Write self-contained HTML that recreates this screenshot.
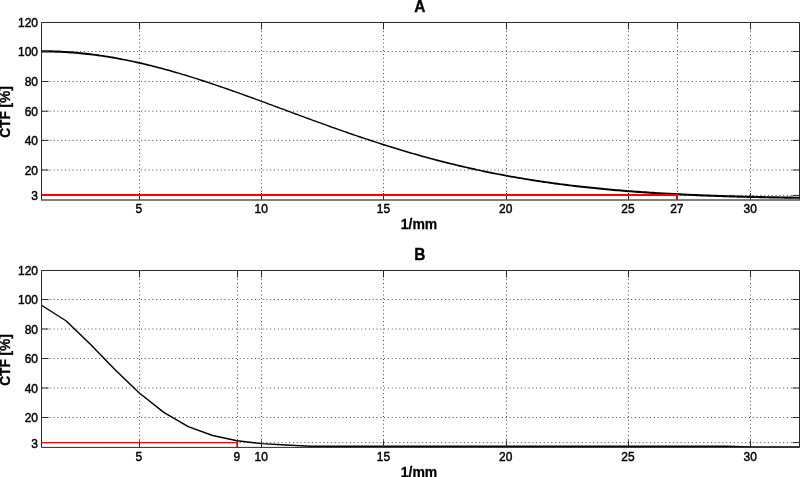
<!DOCTYPE html>
<html><head><meta charset="utf-8"><title>CTF</title>
<style>
html,body{margin:0;padding:0;background:#fff;width:800px;height:477px;overflow:hidden}
svg{display:block;will-change:transform}
.grid{stroke:#4a4a4a;stroke-width:1;stroke-dasharray:1 2.8;fill:none}
.ax{stroke:#2a2a2a;stroke-width:1;fill:none}
.axb{stroke:#555;stroke-width:1.3;fill:none}
.tk{stroke:#2a2a2a;stroke-width:1;fill:none}
.red{stroke:#f00;stroke-width:2;fill:none}
text{font-family:"Liberation Sans",Arial,Helvetica,sans-serif;fill:#000}
.tl{font-size:12px;stroke:#000;stroke-width:0.42}
.ttl{font-size:15px;font-weight:bold;stroke:#000;stroke-width:0.3}
.lbl{font-size:14px;font-weight:bold;stroke:#000;stroke-width:0.25}
.lbl2{font-size:13.7px;font-weight:bold;stroke:#000;stroke-width:0.3}
</style></head><body>
<svg width="800" height="477" viewBox="0 0 800 477">
<rect x="0" y="0" width="800" height="477" fill="#fff"/>
<line x1="139.5" y1="23.6" x2="139.5" y2="200.0" class="grid"/>
<line x1="261.5" y1="23.6" x2="261.5" y2="200.0" class="grid"/>
<line x1="383.5" y1="23.6" x2="383.5" y2="200.0" class="grid"/>
<line x1="506.5" y1="23.6" x2="506.5" y2="200.0" class="grid"/>
<line x1="628.5" y1="23.6" x2="628.5" y2="200.0" class="grid"/>
<line x1="677.5" y1="23.6" x2="677.5" y2="200.0" class="grid"/>
<line x1="750.5" y1="23.6" x2="750.5" y2="200.0" class="grid"/>
<line x1="42.15" y1="195.4" x2="799.5" y2="195.4" class="grid"/>
<line x1="42.15" y1="170.0" x2="799.5" y2="170.0" class="grid"/>
<line x1="42.15" y1="140.4" x2="799.5" y2="140.4" class="grid"/>
<line x1="42.15" y1="111.2" x2="799.5" y2="111.2" class="grid"/>
<line x1="42.15" y1="81.5" x2="799.5" y2="81.5" class="grid"/>
<line x1="42.15" y1="51.5" x2="799.5" y2="51.5" class="grid"/>
<clipPath id="cA"><rect x="41" y="19.5" width="759" height="183.5"/></clipPath>
<path d="M41.50,52.40 L43.94,52.40 L46.38,52.42 L48.82,52.45 L51.25,52.50 L53.69,52.56 L56.13,52.63 L58.57,52.72 L61.01,52.83 L63.45,52.95 L65.89,53.08 L68.33,53.23 L70.77,53.39 L73.21,53.57 L75.65,53.77 L78.09,53.98 L80.53,54.20 L82.97,54.44 L85.41,54.69 L87.85,54.96 L90.29,55.24 L92.73,55.53 L95.17,55.84 L97.61,56.16 L100.05,56.50 L102.49,56.85 L104.93,57.21 L107.37,57.59 L109.82,57.98 L112.26,58.39 L114.70,58.81 L117.14,59.24 L119.58,59.68 L122.02,60.14 L124.47,60.61 L126.91,61.09 L129.35,61.59 L131.79,62.10 L134.24,62.62 L136.68,63.15 L139.12,63.69 L141.56,64.25 L144.01,64.81 L146.45,65.39 L148.89,65.98 L151.34,66.58 L153.78,67.20 L156.22,67.82 L158.66,68.45 L161.11,69.09 L163.55,69.75 L166.00,70.41 L168.44,71.08 L170.88,71.77 L173.33,72.46 L175.77,73.16 L178.21,73.87 L180.66,74.59 L183.10,75.32 L185.55,76.06 L187.99,76.80 L190.43,77.56 L192.88,78.32 L195.32,79.09 L197.77,79.86 L200.21,80.64 L202.66,81.44 L205.10,82.23 L207.54,83.04 L209.99,83.85 L212.43,84.66 L214.88,85.49 L217.32,86.31 L219.77,87.15 L222.21,87.99 L224.66,88.83 L227.10,89.68 L229.55,90.53 L231.99,91.39 L234.44,92.26 L236.88,93.12 L239.33,93.99 L241.77,94.87 L244.22,95.75 L246.66,96.63 L249.11,97.51 L251.55,98.40 L254.00,99.29 L256.44,100.18 L258.89,101.08 L261.33,101.97 L263.78,102.87 L266.22,103.77 L268.67,104.67 L271.11,105.58 L273.56,106.48 L276.00,107.38 L278.45,108.29 L280.89,109.20 L283.34,110.10 L285.78,111.01 L288.23,111.91 L290.67,112.82 L293.12,113.72 L295.56,114.63 L298.01,115.53 L300.45,116.43 L302.90,117.34 L305.34,118.24 L307.79,119.14 L310.23,120.03 L312.68,120.93 L315.12,121.82 L317.57,122.71 L320.02,123.60 L322.46,124.49 L324.91,125.37 L327.35,126.25 L329.80,127.13 L332.24,128.00 L334.69,128.88 L337.13,129.74 L339.58,130.61 L342.02,131.47 L344.47,132.33 L346.92,133.18 L349.36,134.03 L351.81,134.88 L354.25,135.72 L356.70,136.55 L359.14,137.39 L361.59,138.21 L364.03,139.04 L366.48,139.86 L368.93,140.67 L371.37,141.48 L373.82,142.28 L376.26,143.08 L378.71,143.87 L381.15,144.66 L383.60,145.44 L386.05,146.22 L388.49,146.99 L390.94,147.75 L393.38,148.51 L395.83,149.27 L398.28,150.01 L400.72,150.76 L403.17,151.49 L405.61,152.22 L408.06,152.94 L410.51,153.66 L412.95,154.37 L415.40,155.08 L417.84,155.78 L420.29,156.47 L422.74,157.15 L425.18,157.83 L427.63,158.50 L430.08,159.17 L432.52,159.83 L434.97,160.48 L437.41,161.13 L439.86,161.77 L442.31,162.40 L444.75,163.03 L447.20,163.65 L449.65,164.26 L452.09,164.87 L454.54,165.46 L456.99,166.06 L459.43,166.64 L461.88,167.22 L464.33,167.79 L466.77,168.36 L469.22,168.92 L471.66,169.47 L474.11,170.02 L476.56,170.55 L479.00,171.09 L481.45,171.61 L483.90,172.13 L486.34,172.64 L488.79,173.15 L491.24,173.65 L493.69,174.14 L496.13,174.62 L498.58,175.10 L501.03,175.57 L503.47,176.04 L505.92,176.50 L508.37,176.95 L510.81,177.40 L513.26,177.84 L515.71,178.27 L518.15,178.70 L520.60,179.12 L523.05,179.53 L525.49,179.94 L527.94,180.35 L530.39,180.74 L532.83,181.13 L535.28,181.52 L537.73,181.89 L540.18,182.27 L542.62,182.63 L545.07,182.99 L547.52,183.35 L549.96,183.70 L552.41,184.04 L554.86,184.38 L557.30,184.71 L559.75,185.04 L562.20,185.36 L564.64,185.67 L567.09,185.98 L569.54,186.29 L571.99,186.59 L574.43,186.88 L576.88,187.17 L579.33,187.46 L581.77,187.74 L584.22,188.01 L586.67,188.28 L589.11,188.54 L591.56,188.80 L594.01,189.06 L596.45,189.31 L598.90,189.55 L601.35,189.79 L603.79,190.03 L606.24,190.26 L608.69,190.49 L611.13,190.71 L613.58,190.93 L616.03,191.14 L618.47,191.35 L620.92,191.56 L623.37,191.76 L625.81,191.96 L628.26,192.15 L630.71,192.34 L633.15,192.53 L635.60,192.71 L638.05,192.89 L640.49,193.06 L642.94,193.24 L645.39,193.40 L647.83,193.57 L650.28,193.73 L652.73,193.89 L655.17,194.04 L657.62,194.19 L660.07,194.34 L662.51,194.48 L664.96,194.62 L667.40,194.76 L669.85,194.90 L672.30,195.03 L674.74,195.16 L677.19,195.28 L679.64,195.41 L682.08,195.53 L684.53,195.64 L686.97,195.76 L689.42,195.87 L691.87,195.98 L694.31,196.09 L696.76,196.19 L699.21,196.29 L701.65,196.39 L704.10,196.49 L706.54,196.59 L708.99,196.68 L711.44,196.77 L713.88,196.86 L716.33,196.95 L718.77,197.03 L721.22,197.11 L723.67,197.19 L726.11,197.27 L728.56,197.35 L731.00,197.42 L733.45,197.49 L735.90,197.56 L738.34,197.63 L740.79,197.70 L743.23,197.77 L745.68,197.83 L748.13,197.89 L750.57,197.95 L753.02,198.01 L755.46,198.07 L757.91,198.12 L760.35,198.18 L762.80,198.23 L765.25,198.28 L767.69,198.33 L770.14,198.38 L772.58,198.43 L775.03,198.48 L777.47,198.52 L779.92,198.57 L782.37,198.61 L784.81,198.65 L787.26,198.69 L789.70,198.73 L792.15,198.77 L794.59,198.80 L797.04,198.84 L799.48,198.87 L799.52,196.71 L797.07,196.67 L794.63,196.64 L792.18,196.60 L789.74,196.56 L787.29,196.53 L784.85,196.49 L782.40,196.45 L779.96,196.41 L777.51,196.36 L775.07,196.32 L772.62,196.27 L770.18,196.23 L767.73,196.18 L765.29,196.13 L762.85,196.08 L760.40,196.03 L757.96,195.98 L755.51,195.92 L753.07,195.87 L750.62,195.81 L748.18,195.75 L745.73,195.69 L743.29,195.63 L740.84,195.56 L738.40,195.50 L735.96,195.43 L733.51,195.36 L731.07,195.29 L728.62,195.22 L726.18,195.14 L723.73,195.07 L721.29,194.99 L718.85,194.91 L716.40,194.83 L713.96,194.74 L711.51,194.66 L709.07,194.57 L706.62,194.48 L704.18,194.38 L701.74,194.29 L699.29,194.19 L696.85,194.09 L694.40,193.99 L691.96,193.88 L689.51,193.78 L687.07,193.67 L684.63,193.55 L682.18,193.44 L679.74,193.32 L677.29,193.20 L674.85,193.08 L672.41,192.95 L669.96,192.82 L667.52,192.69 L665.07,192.56 L662.63,192.42 L660.19,192.28 L657.74,192.13 L655.30,191.99 L652.85,191.83 L650.41,191.68 L647.97,191.52 L645.52,191.36 L643.08,191.20 L640.64,191.03 L638.19,190.86 L635.75,190.68 L633.30,190.51 L630.86,190.32 L628.42,190.14 L625.97,189.95 L623.53,189.75 L621.09,189.56 L618.64,189.35 L616.20,189.15 L613.75,188.94 L611.31,188.72 L608.87,188.51 L606.42,188.28 L603.98,188.06 L601.54,187.82 L599.09,187.59 L596.65,187.35 L594.21,187.10 L591.76,186.85 L589.32,186.60 L586.88,186.34 L584.43,186.07 L581.99,185.81 L579.55,185.53 L577.10,185.25 L574.66,184.97 L572.21,184.68 L569.77,184.38 L567.33,184.09 L564.88,183.78 L562.44,183.47 L560.00,183.16 L557.55,182.83 L555.11,182.51 L552.67,182.18 L550.22,181.84 L547.78,181.50 L545.34,181.15 L542.89,180.79 L540.45,180.43 L538.01,180.07 L535.56,179.69 L533.12,179.32 L530.68,178.93 L528.23,178.54 L525.79,178.15 L523.35,177.74 L520.90,177.33 L518.46,176.92 L516.02,176.50 L513.57,176.07 L511.13,175.64 L508.69,175.20 L506.24,174.75 L503.80,174.30 L501.36,173.84 L498.91,173.38 L496.47,172.91 L494.02,172.43 L491.58,171.94 L489.14,171.45 L486.69,170.95 L484.25,170.45 L481.81,169.94 L479.36,169.42 L476.92,168.89 L474.48,168.36 L472.03,167.82 L469.59,167.28 L467.14,166.73 L464.70,166.17 L462.26,165.60 L459.81,165.03 L457.37,164.45 L454.93,163.87 L452.48,163.28 L450.04,162.68 L447.59,162.07 L445.15,161.46 L442.71,160.84 L440.26,160.21 L437.82,159.58 L435.37,158.94 L432.93,158.30 L430.49,157.64 L428.04,156.99 L425.60,156.32 L423.15,155.65 L420.71,154.97 L418.27,154.28 L415.82,153.59 L413.38,152.89 L410.93,152.19 L408.49,151.48 L406.04,150.76 L403.60,150.04 L401.16,149.31 L398.71,148.58 L396.27,147.83 L393.82,147.09 L391.38,146.33 L388.93,145.57 L386.49,144.81 L384.04,144.04 L381.60,143.26 L379.16,142.48 L376.71,141.69 L374.27,140.90 L371.82,140.10 L369.38,139.30 L366.93,138.49 L364.49,137.68 L362.04,136.86 L359.60,136.04 L357.15,135.21 L354.71,134.38 L352.26,133.54 L349.82,132.70 L347.38,131.86 L344.93,131.01 L342.49,130.15 L340.04,129.30 L337.60,128.44 L335.15,127.57 L332.71,126.70 L330.26,125.83 L327.82,124.96 L325.37,124.08 L322.93,123.20 L320.48,122.32 L318.04,121.43 L315.59,120.54 L313.15,119.65 L310.70,118.76 L308.26,117.86 L305.81,116.96 L303.37,116.07 L300.92,115.17 L298.48,114.26 L296.03,113.36 L293.59,112.46 L291.14,111.55 L288.70,110.65 L286.25,109.74 L283.81,108.84 L281.36,107.93 L278.92,107.02 L276.47,106.12 L274.02,105.21 L271.58,104.31 L269.13,103.41 L266.69,102.50 L264.24,101.60 L261.80,100.70 L259.35,99.80 L256.91,98.91 L254.46,98.01 L252.02,97.12 L249.57,96.23 L247.13,95.34 L244.68,94.46 L242.24,93.58 L239.79,92.70 L237.34,91.82 L234.90,90.95 L232.45,90.08 L230.01,89.22 L227.56,88.36 L225.12,87.51 L222.67,86.66 L220.23,85.81 L217.78,84.97 L215.33,84.14 L212.89,83.31 L210.44,82.49 L208.00,81.67 L205.55,80.86 L203.11,80.06 L200.66,79.26 L198.21,78.47 L195.77,77.68 L193.32,76.91 L190.88,76.14 L188.43,75.38 L185.98,74.62 L183.54,73.88 L181.09,73.14 L178.64,72.41 L176.20,71.69 L173.75,70.98 L171.30,70.28 L168.86,69.59 L166.41,68.90 L163.96,68.23 L161.52,67.56 L159.07,66.91 L156.62,66.26 L154.18,65.63 L151.73,65.01 L149.28,64.40 L146.83,63.79 L144.39,63.20 L141.94,62.62 L139.49,62.06 L137.04,61.50 L134.60,60.96 L132.15,60.42 L129.70,59.90 L127.25,59.39 L124.80,58.90 L122.36,58.42 L119.91,57.94 L117.46,57.49 L115.01,57.04 L112.56,56.61 L110.11,56.19 L107.66,55.78 L105.22,55.39 L102.77,55.01 L100.32,54.65 L97.87,54.30 L95.42,53.96 L92.97,53.64 L90.52,53.33 L88.07,53.03 L85.62,52.75 L83.17,52.48 L80.72,52.23 L78.27,51.99 L75.82,51.77 L73.37,51.56 L70.92,51.37 L68.47,51.19 L66.01,51.03 L63.56,50.88 L61.11,50.74 L58.66,50.62 L56.21,50.52 L53.76,50.43 L51.31,50.35 L48.86,50.29 L46.40,50.25 L43.95,50.22 L41.50,50.21 Z" fill="#000" clip-path="url(#cA)"/>
<path d="M139.5,200.0 v-7 M139.5,22.5 v7" class="tk"/>
<text transform="translate(138.91,213.40) scale(1.0,1.1)" class="tl" text-anchor="middle">5</text>
<path d="M261.5,200.0 v-7 M261.5,22.5 v7" class="tk"/>
<text transform="translate(261.16,213.40) scale(1.0,1.1)" class="tl" text-anchor="middle">10</text>
<path d="M383.5,200.0 v-7 M383.5,22.5 v7" class="tk"/>
<text transform="translate(383.42,213.40) scale(1.0,1.1)" class="tl" text-anchor="middle">15</text>
<path d="M506.5,200.0 v-7 M506.5,22.5 v7" class="tk"/>
<text transform="translate(505.68,213.40) scale(1.0,1.1)" class="tl" text-anchor="middle">20</text>
<path d="M628.5,200.0 v-7 M628.5,22.5 v7" class="tk"/>
<text transform="translate(627.94,213.40) scale(1.0,1.1)" class="tl" text-anchor="middle">25</text>
<path d="M677.5,200.0 v-7 M677.5,22.5 v7" class="tk"/>
<text transform="translate(676.84,213.40) scale(1.0,1.1)" class="tl" text-anchor="middle">27</text>
<path d="M750.5,200.0 v-7 M750.5,22.5 v7" class="tk"/>
<text transform="translate(750.20,213.40) scale(1.0,1.1)" class="tl" text-anchor="middle">30</text>
<path d="M41.5,195.4 h7 M799.5,195.4 h-7" class="tk"/>
<text transform="translate(38.00,200.30) scale(1.0,1.1)" class="tl" text-anchor="end">3</text>
<path d="M41.5,170.0 h7 M799.5,170.0 h-7" class="tk"/>
<text transform="translate(38.00,174.90) scale(1.0,1.1)" class="tl" text-anchor="end">20</text>
<path d="M41.5,140.4 h7 M799.5,140.4 h-7" class="tk"/>
<text transform="translate(38.00,145.30) scale(1.0,1.1)" class="tl" text-anchor="end">40</text>
<path d="M41.5,111.2 h7 M799.5,111.2 h-7" class="tk"/>
<text transform="translate(38.00,116.10) scale(1.0,1.1)" class="tl" text-anchor="end">60</text>
<path d="M41.5,81.5 h7 M799.5,81.5 h-7" class="tk"/>
<text transform="translate(38.00,86.40) scale(1.0,1.1)" class="tl" text-anchor="end">80</text>
<path d="M41.5,51.5 h7 M799.5,51.5 h-7" class="tk"/>
<text transform="translate(38.00,56.40) scale(1.0,1.1)" class="tl" text-anchor="end">100</text>
<path d="M41.5,22.5 h7 M799.5,22.5 h-7" class="tk"/>
<text transform="translate(38.00,27.40) scale(1.0,1.1)" class="tl" text-anchor="end">120</text>
<path d="M41.5,195.0 H678.0 M677.0,194.0 V200.0" stroke="#f00" stroke-width="2.0" fill="none"/>
<path d="M41.5,200.0 V22.5 H799.5 V200.0" class="ax"/>
<path d="M41.0,200.0 H800.0" class="axb"/>
<text transform="translate(419.90,12.00) scale(1.03,1.16)" class="ttl" text-anchor="middle">A</text>
<text transform="translate(419.00,229.30) scale(1.0,1.04)" class="lbl" text-anchor="middle">1/mm</text>
<text transform="translate(9.50,112.00) rotate(-90) scale(1.0,1.1)" class="lbl2" text-anchor="middle">CTF [%]</text>
<line x1="139.5" y1="271.6" x2="139.5" y2="447.4" class="grid"/>
<line x1="237.5" y1="271.6" x2="237.5" y2="447.4" class="grid"/>
<line x1="261.5" y1="271.6" x2="261.5" y2="447.4" class="grid"/>
<line x1="383.5" y1="271.6" x2="383.5" y2="447.4" class="grid"/>
<line x1="506.5" y1="271.6" x2="506.5" y2="447.4" class="grid"/>
<line x1="628.5" y1="271.6" x2="628.5" y2="447.4" class="grid"/>
<line x1="750.5" y1="271.6" x2="750.5" y2="447.4" class="grid"/>
<line x1="42.15" y1="442.6" x2="799.5" y2="442.6" class="grid"/>
<line x1="42.15" y1="417.5" x2="799.5" y2="417.5" class="grid"/>
<line x1="42.15" y1="388.0" x2="799.5" y2="388.0" class="grid"/>
<line x1="42.15" y1="358.5" x2="799.5" y2="358.5" class="grid"/>
<line x1="42.15" y1="329.0" x2="799.5" y2="329.0" class="grid"/>
<line x1="42.15" y1="299.5" x2="799.5" y2="299.5" class="grid"/>
<clipPath id="cB"><rect x="41" y="267.5" width="759" height="182.89999999999998"/></clipPath>
<polyline points="41.50,305.25 65.95,320.74 90.40,344.34 114.85,369.56 139.31,393.01 163.76,412.34 188.21,426.64 212.66,435.50 237.11,440.81 261.56,443.61 286.02,444.94 310.47,446.31 334.92,446.31 359.37,446.31 383.82,446.31 408.27,446.31 432.73,446.31 457.18,446.31 481.63,446.31 506.08,446.31 530.53,446.31 554.98,446.31 579.44,446.31 603.89,446.31 628.34,446.31 652.79,446.31 677.24,446.31 701.69,446.31 726.15,446.31 750.60,446.85 775.05,446.85 799.50,446.85" fill="none" stroke="#000" stroke-width="1.45" stroke-linejoin="round" clip-path="url(#cB)"/>
<path d="M139.5,447.4 v-7 M139.5,270.5 v7" class="tk"/>
<text transform="translate(138.91,461.40) scale(1.0,1.1)" class="tl" text-anchor="middle">5</text>
<path d="M237.5,447.4 v-7 M237.5,270.5 v7" class="tk"/>
<text transform="translate(236.71,461.40) scale(1.0,1.1)" class="tl" text-anchor="middle">9</text>
<path d="M261.5,447.4 v-7 M261.5,270.5 v7" class="tk"/>
<text transform="translate(261.16,461.40) scale(1.0,1.1)" class="tl" text-anchor="middle">10</text>
<path d="M383.5,447.4 v-7 M383.5,270.5 v7" class="tk"/>
<text transform="translate(383.42,461.40) scale(1.0,1.1)" class="tl" text-anchor="middle">15</text>
<path d="M506.5,447.4 v-7 M506.5,270.5 v7" class="tk"/>
<text transform="translate(505.68,461.40) scale(1.0,1.1)" class="tl" text-anchor="middle">20</text>
<path d="M628.5,447.4 v-7 M628.5,270.5 v7" class="tk"/>
<text transform="translate(627.94,461.40) scale(1.0,1.1)" class="tl" text-anchor="middle">25</text>
<path d="M750.5,447.4 v-7 M750.5,270.5 v7" class="tk"/>
<text transform="translate(750.20,461.40) scale(1.0,1.1)" class="tl" text-anchor="middle">30</text>
<path d="M41.5,442.6 h7 M799.5,442.6 h-7" class="tk"/>
<text transform="translate(38.00,447.50) scale(1.0,1.1)" class="tl" text-anchor="end">3</text>
<path d="M41.5,417.5 h7 M799.5,417.5 h-7" class="tk"/>
<text transform="translate(38.00,422.40) scale(1.0,1.1)" class="tl" text-anchor="end">20</text>
<path d="M41.5,388.0 h7 M799.5,388.0 h-7" class="tk"/>
<text transform="translate(38.00,392.90) scale(1.0,1.1)" class="tl" text-anchor="end">40</text>
<path d="M41.5,358.5 h7 M799.5,358.5 h-7" class="tk"/>
<text transform="translate(38.00,363.40) scale(1.0,1.1)" class="tl" text-anchor="end">60</text>
<path d="M41.5,329.0 h7 M799.5,329.0 h-7" class="tk"/>
<text transform="translate(38.00,333.90) scale(1.0,1.1)" class="tl" text-anchor="end">80</text>
<path d="M41.5,299.5 h7 M799.5,299.5 h-7" class="tk"/>
<text transform="translate(38.00,304.40) scale(1.0,1.1)" class="tl" text-anchor="end">100</text>
<path d="M41.5,270.5 h7 M799.5,270.5 h-7" class="tk"/>
<text transform="translate(38.00,275.40) scale(1.0,1.1)" class="tl" text-anchor="end">120</text>
<path d="M41.5,442.6 H238.0 M237.0,441.6 V447.4" stroke="#f00" stroke-width="1.4" fill="none"/>
<path d="M41.5,447.4 V270.5 H799.5 V447.4 Z" class="ax"/>
<text transform="translate(419.90,260.00) scale(1.03,1.16)" class="ttl" text-anchor="middle">B</text>
<text transform="translate(419.00,477.30) scale(1.0,1.04)" class="lbl" text-anchor="middle">1/mm</text>
<text transform="translate(9.50,360.00) rotate(-90) scale(1.0,1.1)" class="lbl2" text-anchor="middle">CTF [%]</text>
</svg>
</body></html>
